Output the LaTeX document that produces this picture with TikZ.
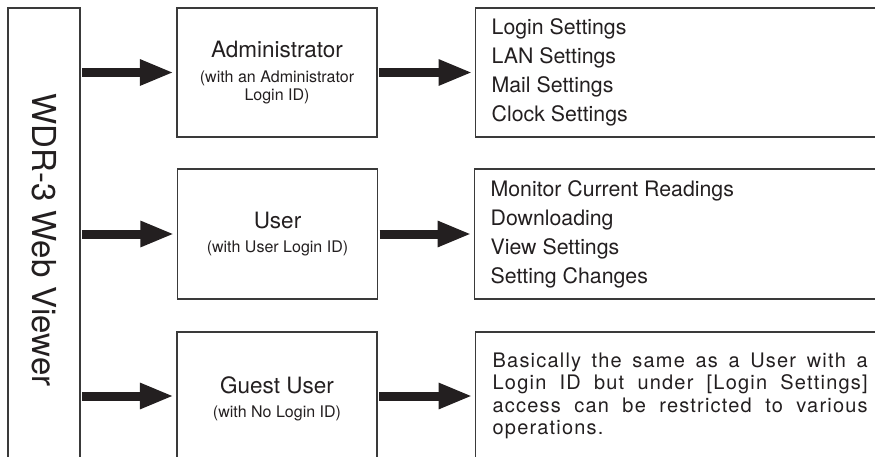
\documentclass[tikz,border=0pt]{standalone}
\usepackage{fontspec}
\setmainfont{TeX Gyre Heros}
\usetikzlibrary{arrows.meta}
\definecolor{ink}{HTML}{231F20}
\definecolor{frame}{HTML}{3A3A3A}
\newcommand{\tfont}{\fontsize{22.5}{25}\selectfont\spaceskip=.28em\xspaceskip=.28em\relax}
\newcommand{\sfont}{\fontsize{16}{18}\selectfont\spaceskip=.28em\xspaceskip=.28em\relax}
\newcommand{\lfont}{\fontsize{21.3}{29}\selectfont\parskip=0pt\spaceskip=.28em\xspaceskip=.28em\relax}
\newcommand{\gfont}{\fontsize{20}{22.3}\selectfont\addfontfeature{LetterSpace=6}}
\begin{document}
\begin{tikzpicture}[x=1pt,y=-1pt,
  box/.style={draw=frame, line width=1.3pt, inner sep=0pt, text=ink},
  rolebox/.style={box, text width=200pt, align=center},
  listbox/.style={box, anchor=west, inner xsep=16pt, text width=373pt, align=left},
  bigarrow/.style={draw=ink, line width=9pt, -{Triangle[length=34pt,width=24pt]},
                   shorten <=1.5pt, shorten >=2.5pt}]
\useasboundingbox (0,0) rectangle (875,457);

\node[box, minimum width=72pt, minimum height=464pt] (wdr) at (44,240)
  {\rotatebox{-90}{\fontsize{33}{33}\selectfont WDR-3 Web Viewer}};

\node[rolebox, minimum height=129pt] (admin) at (277,72.5)
  {\tfont Administrator\par\vspace{7pt}\sfont (with an Administrator\\Login ID)\par};
\node[rolebox, minimum height=130pt] (user) at (277.5,234)
  {\tfont User\par\vspace{6pt}\sfont (with User Login ID)\par};
\node[rolebox, minimum height=134pt] (guest) at (277,399)
  {\tfont Guest User\par\vspace{6pt}\sfont (with No Login ID)\par};

\node[listbox, minimum height=129pt] (set1) at (475,72.5)
  {\lfont Login Settings\par LAN Settings\par Mail Settings\par Clock Settings\par};
\node[listbox, minimum height=130pt] (set2) at (474,234)
  {\lfont Monitor Current Readings\par Downloading\par View Settings\par Setting Changes\par};
\node[box, anchor=west, inner xsep=17pt, text width=375pt, align=justify, minimum height=128pt] (set3) at (475,396)
  {\gfont Basically the same as a User with a\linebreak Login ID but under [Login Settings]\linebreak access can be restricted to various\linebreak operations.\par};

\coordinate (g) at ([yshift=3pt]guest.west);
\coordinate (ge) at ([yshift=3pt]guest.east);

\draw[bigarrow] (wdr.east |- admin.west) -- (admin.west);
\draw[bigarrow] (wdr.east |- user.west) -- (user.west);
\draw[bigarrow] (wdr.east |- g) -- (g);
\draw[bigarrow] (admin.east) -- (set1.west);
\draw[bigarrow] (user.east) -- (set2.west);
\draw[bigarrow] (ge) -- (set3.west);
\end{tikzpicture}
\end{document}
